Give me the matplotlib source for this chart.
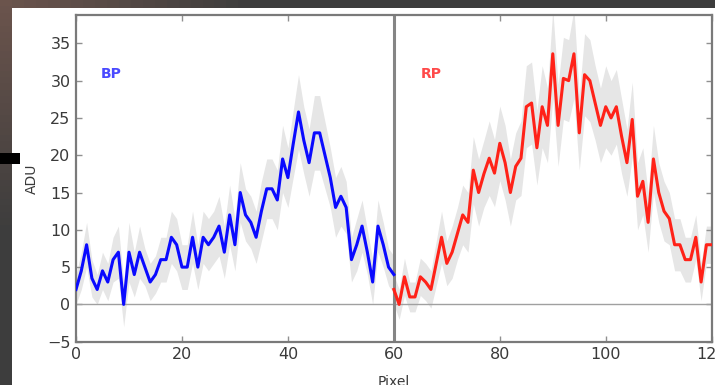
import numpy as np
import matplotlib
matplotlib.use("Agg")
import matplotlib.pyplot as plt
from matplotlib.patches import Rectangle

# pixel positions along the dispersion
bp_pix = list(range(0, 61))
rp_pix = list(range(60, 121))

# BP flux (ADU)
bp_adu = [2, 4.5, 8, 3.5, 2, 4.5, 3, 6, 7, 0,
          7, 4, 7, 5, 3, 4, 6, 6, 9, 8,
          5, 5, 9, 5, 9, 8, 9, 10.5, 7, 12,
          8, 15, 12, 11, 9, 12.5, 15.5, 15.5, 14, 19.5,
          17, 21.5, 25.8, 22, 19, 23, 23, 20, 17, 13,
          14.5, 13, 6, 8, 10.5, 7, 3, 10.5, 8, 5,
          4]
bp_err = [2.0, 2.5, 3.0, 2.5, 2.0, 2.5, 2.5, 3.0, 3.5, 3.0,
          4.0, 3.0, 3.5, 2.5, 2.5, 2.5, 3.0, 3.0, 3.5, 3.5,
          3.0, 3.0, 3.5, 3.0, 3.5, 3.5, 3.5, 4.0, 3.5, 4.0,
          3.5, 4.0, 3.5, 3.5, 3.5, 4.0, 4.0, 4.0, 4.0, 4.5,
          4.0, 4.5, 5.0, 4.5, 4.5, 5.0, 5.0, 4.5, 4.0, 4.0,
          4.0, 3.5, 3.0, 3.5, 3.5, 3.0, 3.0, 3.5, 3.0, 2.5,
          2.5]

# RP flux (ADU)
rp_adu = [2, 0, 3.7, 1, 1, 3.7, 3, 2, 5.5, 9,
          5.5, 7, 9.5, 12, 11, 18, 15, 17.5, 19.6, 17.6,
          21.6, 19, 15, 18.5, 19.6, 26.5, 27, 21, 26.5, 24,
          33.6, 24, 30.3, 30, 33.6, 23, 30.8, 30, 27, 24,
          26.5, 25, 26.5, 22.5, 19, 24.8, 14.5, 16.5, 11, 19.5,
          15, 12.5, 11.5, 8, 8, 6, 6, 9, 3, 8,
          8]
rp_err = [2.0, 2.0, 2.5, 2.0, 2.0, 2.5, 2.5, 2.5, 3.0, 3.5,
          3.0, 3.5, 3.5, 4.0, 4.0, 4.5, 4.5, 4.5, 5.0, 4.5,
          5.0, 5.0, 4.5, 4.5, 5.0, 5.5, 5.5, 5.0, 5.5, 5.0,
          6.0, 5.5, 5.5, 5.5, 6.0, 5.0, 5.5, 5.5, 5.0, 5.0,
          5.5, 5.0, 5.0, 5.0, 4.5, 5.0, 4.5, 4.5, 4.0, 4.5,
          4.0, 4.0, 3.5, 3.5, 3.5, 3.0, 3.0, 3.0, 2.5, 2.5,
          2.5]

xticks = [0, 20, 40, 60, 80, 100, 120]
yticks = [-5, 0, 5, 10, 15, 20, 25, 30, 35]

W, H = 715, 385
fig = plt.figure(figsize=(W / 100, H / 100), dpi=100, facecolor="#3c3c3c")

# slide background behind the figure (brownish in the top-left corner)
bg = fig.add_axes([0, 0, 1, 1], zorder=-3)
yy, xx = np.mgrid[0:1:60j, 0:1:60j]
w = np.clip(1 - np.sqrt((xx / 0.35) ** 2 + (yy / 0.6) ** 2), 0, 1)[..., None]
grad = (1 - w) * np.array([0.24, 0.24, 0.24]) + w * np.array([0.42, 0.33, 0.30])
bg.imshow(grad, extent=[0, 1, 0, 1], aspect="auto", origin="upper")
bg.axis("off")

fig.add_artist(Rectangle((12 / W, 0), 1, 1 - 8 / H, transform=fig.transFigure,
                         facecolor="white", edgecolor="none", zorder=-2))
fig.add_artist(Rectangle((0, 1 - 164 / H), 20 / W, 11 / H, transform=fig.transFigure,
                         facecolor="black", edgecolor="none", zorder=-1))

ax = fig.add_axes([76 / W, 1 - 341.7 / H, (711.7 - 76) / W, (341.7 - 15) / H])
ax.set_facecolor("white")

bp_lo = np.array(bp_adu) - np.array(bp_err)
bp_hi = np.array(bp_adu) + np.array(bp_err)
rp_lo = np.array(rp_adu) - np.array(rp_err)
rp_hi = np.array(rp_adu) + np.array(rp_err)
ax.fill_between(bp_pix, bp_lo, bp_hi, color="#e6e6e6", lw=0, zorder=1)
ax.fill_between(rp_pix, rp_lo, rp_hi, color="#e6e6e6", lw=0, zorder=1)

ax.axhline(0, color="#a0a0a0", lw=1.0, zorder=2)
ax.axvline(60, color="#858585", lw=2.2, zorder=2)

ax.plot(bp_pix, bp_adu, color="#0a0aff", lw=2.2, zorder=3)
ax.plot(rp_pix, rp_adu, color="#ff2218", lw=2.2, zorder=3)

ax.text(4.7, 30.9, "BP", color="#4a4aff", fontsize=10, fontweight="bold", va="center")
ax.text(65, 30.9, "RP", color="#ff4a4a", fontsize=10, fontweight="bold", va="center")

ax.set_xlim(0, 120)
ax.set_ylim(-5, 38.8)
ax.set_xticks(xticks)
ax.set_yticks(yticks)
ax.tick_params(direction="in", top=True, right=True, length=4, width=1,
               color="#909090", labelsize=11.5, labelcolor="#3a3a3a", pad=4)
for s in ax.spines.values():
    s.set_color("#7a7a7a")
    s.set_linewidth(1.6)

ax.set_xlabel("Pixel", fontsize=10, color="#3a3a3a", labelpad=9)
ax.set_ylabel("ADU", fontsize=10, color="#3a3a3a", labelpad=6)

fig.savefig("out.png", dpi=100, facecolor=fig.get_facecolor())
